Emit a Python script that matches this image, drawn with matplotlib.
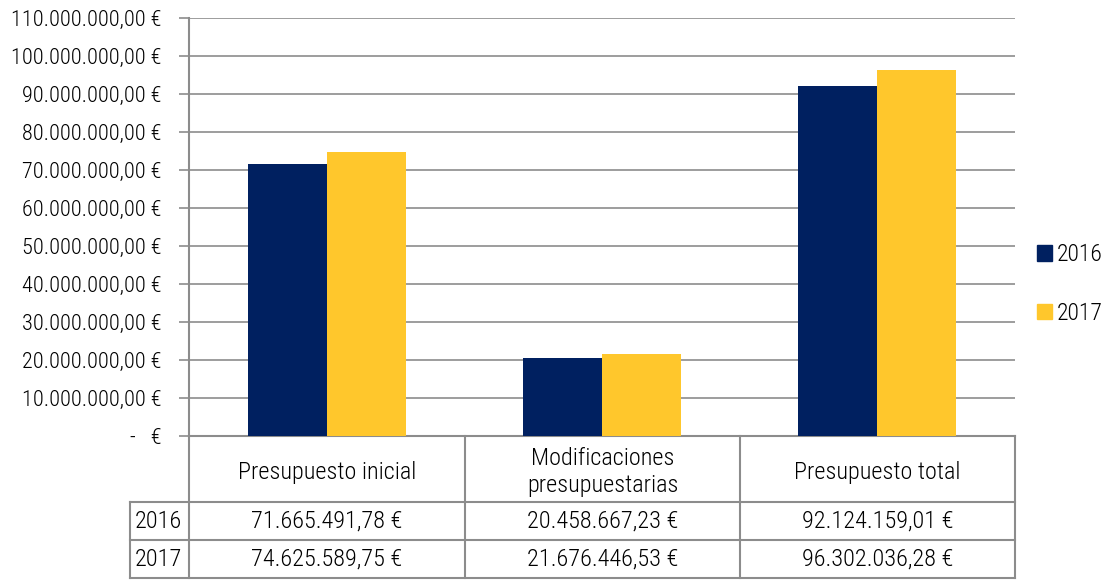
import matplotlib
matplotlib.use("Agg")
import matplotlib.pyplot as plt
import numpy as np
from matplotlib.patches import Patch

plt.rcParams['font.family'] = ['Roboto Condensed', 'Liberation Sans', 'DejaVu Sans']
plt.rcParams['font.weight'] = 'light'

# data
categories = ["Presupuesto inicial", "Modificaciones\npresupuestarias", "Presupuesto total"]
years = ["2016", "2017"]
vals_2016 = [71665491.78, 20458667.23, 92124159.01]
vals_2017 = [74625589.75, 21676446.53, 96302036.28]
colors = ["#002060", "#FFC72C"]
grid_color = "#8C8C8C"


def euro(v):
    s = f"{v:,.2f}".replace(",", "X").replace(".", ",").replace("X", ".")
    return s + " €"


W, H = 1113, 582
fig = plt.figure(figsize=(W / 100, H / 100), dpi=100)

# plot area in pixels
x0, x1, y_top, y_bot = 189, 1015, 18, 436
ax = fig.add_axes([x0 / W, 1 - y_bot / H, (x1 - x0) / W, (y_bot - y_top) / H])

x = np.arange(len(categories))
bw = 0.287
ax.bar(x - bw / 2, vals_2016, bw, color=colors[0], zorder=3)
ax.bar(x + bw / 2, vals_2017, bw, color=colors[1], zorder=3)

ax.set_xlim(-0.5, len(categories) - 0.5)
ax.set_ylim(0, 110e6)
yt = np.arange(0, 110e6 + 1, 10e6)
ax.set_yticks(yt)
ax.set_yticklabels(["-   €" if v == 0 else euro(v) for v in yt], fontsize=16)
ax.yaxis.grid(True, color=grid_color, linewidth=1.2, zorder=0)
ax.set_xticks([])
for s in ["top", "right"]:
    ax.spines[s].set_visible(False)
for s in ["left", "bottom"]:
    ax.spines[s].set_color(grid_color)
    ax.spines[s].set_linewidth(1.5)
ax.tick_params(axis="y", length=7, width=1.2, color=grid_color, pad=13)

# legend
handles = [Patch(color=c, label=y) for c, y in zip(colors, years)]
fig.legend(handles=handles, loc="center left", bbox_to_anchor=(1037 / W, 1 - 284 / H),
           frameon=False, fontsize=17, handlelength=0.62, handleheight=0.62,
           handletextpad=0.22, labelspacing=1.5, borderpad=0, borderaxespad=0)

# data table below the chart (pixel coordinates)
tb = fig.add_axes([0, 0, 1, 1])
tb.set_xlim(0, W)
tb.set_ylim(H, 0)
tb.axis("off")
col_edges = [189, 465, 740, 1015]
row_y = [436, 502, 540, 578]
lw = 1.5
for xe in col_edges:
    tb.plot([xe, xe], [row_y[0], row_y[-1]], color=grid_color, lw=lw)
tb.plot([130, 130], [row_y[1], row_y[-1]], color=grid_color, lw=lw)
for ye in row_y[1:]:
    tb.plot([130, 1015], [ye, ye], color=grid_color, lw=lw)

for i, cat in enumerate(categories):
    cx = (col_edges[i] + col_edges[i + 1]) / 2
    tb.text(cx, (row_y[0] + row_y[1]) / 2 + 3, cat, ha="center", va="center",
            fontsize=17.5, linespacing=1.2)
    for j, vals in enumerate([vals_2016, vals_2017]):
        tb.text(cx, (row_y[j + 1] + row_y[j + 2]) / 2, euro(vals[i]),
                ha="center", va="center", fontsize=17.5)
for j, yr in enumerate(years):
    tb.text(158, (row_y[j + 1] + row_y[j + 2]) / 2, yr, ha="center", va="center", fontsize=17.5)

fig.savefig("out.png", dpi=100)
